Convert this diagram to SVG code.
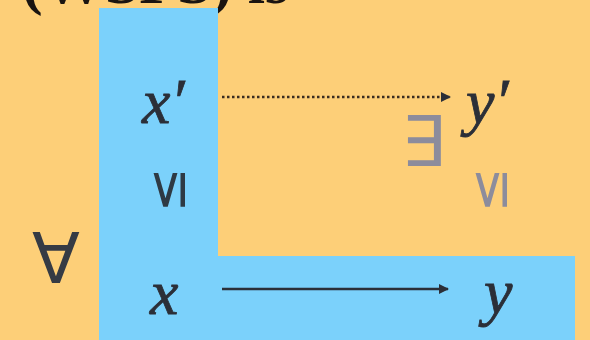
<svg xmlns="http://www.w3.org/2000/svg" width="590" height="340" viewBox="0 0 590 340">
<defs>
<style>
.math{font-family:"Liberation Serif","DejaVu Serif",serif;font-style:italic;fill:#2b2f38;stroke:#2b2f38;stroke-width:0.8px;font-size:64px}
.sym{font-family:"DejaVu Sans",sans-serif;}
</style>
<marker id="ah" viewBox="0 0 10 10" refX="9" refY="5" markerWidth="10" markerHeight="10" markerUnits="userSpaceOnUse" orient="auto"><path d="M0,0 L10,5 L0,10 z" fill="#2b2f38"/></marker>
</defs>
<rect width="590" height="340" fill="#FDCF78"/>
<text x="22" y="3" font-family="Liberation Serif,serif" font-weight="bold" font-size="62" fill="#1a1410">(WSFS) is</text>
<path d="M99,8 H218 V256 H575 V340 H99 Z" fill="#7BD1FB"/>
<g id="xprime"><text class="math" x="142" y="123">x′</text></g>
<g id="yprime"><text class="math" x="466" y="123">y′</text></g>
<g id="x"><text class="math" x="150" y="314">x</text></g>
<g id="y"><text class="math" x="484" y="313">y</text></g>
<g id="leq1"><text class="sym" font-size="54" fill="#2e3a44" text-anchor="middle" dominant-baseline="central" transform="translate(166,190) rotate(-90)">≤</text></g>
<g id="leq2"><text class="sym" font-size="54" fill="#8c8c9c" text-anchor="middle" dominant-baseline="central" transform="translate(488,190) rotate(-90)">≤</text></g>
<g id="exists"><text class="sym" font-size="70" fill="#8c8c9c" text-anchor="middle" x="423" y="166">∃</text></g>
<g id="forall"><text class="sym" font-size="70" fill="#363b44" text-anchor="middle" x="56" y="283">∀</text></g>
<g id="connectors">
<line x1="222" y1="97" x2="450" y2="97" stroke="#3a2c20" stroke-width="2.5" stroke-dasharray="2.5,2.5" marker-end="url(#ah)"/>
<line x1="222" y1="289" x2="448" y2="289" stroke="#2b2f38" stroke-width="2.5" marker-end="url(#ah)"/>
</g>
</svg>
